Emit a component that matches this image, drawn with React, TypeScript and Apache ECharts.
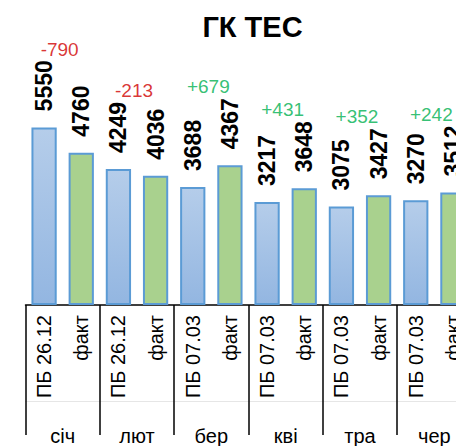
import React, { useEffect, useRef } from "react";
import * as echarts from "echarts";

const months = ["січ", "лют", "бер", "кві", "тра", "чер"];
const subLabels = [
  "ПБ 26.12", "факт", "ПБ 26.12", "факт", "ПБ 07.03", "факт",
  "ПБ 07.03", "факт", "ПБ 07.03", "факт", "ПБ 07.03", "факт",
];
const planValues = [5550, 4249, 3688, 3217, 3075, 3270];
const factValues = [4760, 4036, 4367, 3648, 3427, 3512];

const FONT = "Liberation Sans";

export default function App() {
  const ref = useRef<HTMLDivElement>(null);

  useEffect(() => {
    if (!ref.current) return;
    const chart = echarts.init(ref.current, undefined, { renderer: "svg" });

    const planData: (number | null)[] = [];
    const factData: (number | null)[] = [];
    planValues.forEach((p, i) => {
      planData.push(p, null);
      factData.push(null, factValues[i]);
    });

    const diffData = planValues.map((p, i) => {
      const d = factValues[i] - p;
      return {
        value: [i, Math.max(p, factValues[i]) + 2450],
        label: {
          formatter: (d > 0 ? "+" : "") + String(d),
          color: d < 0 ? "#d00000" : "#00b050",
        },
      };
    });

    const valueLabel = {
      show: true,
      position: "top",
      distance: 16,
      rotate: 90,
      align: "left",
      verticalAlign: "middle",
      fontFamily: FONT,
      fontWeight: "bold",
      fontSize: 23,
      color: "#000",
    };

    chart.setOption({
      animation: false,
      title: {
        text: "ГК ТЕС",
        left: 247.5,
        top: 7,
        textAlign: "center",
        textStyle: { fontFamily: FONT, fontWeight: "bold", fontSize: 29, color: "#000" },
      },
      grid: { left: 25.5, top: 113, width: 446, height: 204, containLabel: false },
      xAxis: [
        {
          type: "category",
          data: subLabels,
          position: "bottom",
          axisLine: { show: true, lineStyle: { color: "#000", width: 1.5 } },
          axisTick: { show: false },
          axisLabel: {
            interval: 0,
            rotate: 90,
            margin: 10,
            fontFamily: FONT,
            fontSize: 20,
            color: "#000",
          },
          splitLine: { show: false },
        },
        {
          type: "category",
          data: months,
          position: "bottom",
          axisLine: { show: false },
          axisTick: { show: true, interval: 0, length: 130, lineStyle: { color: "#000", width: 1.5 } },
          axisLabel: {
            interval: 0,
            margin: 121,
            fontFamily: FONT,
            fontSize: 20,
            color: "#000",
          },
          splitLine: { show: false },
        },
        {
          type: "category",
          data: months,
          position: "bottom",
          offset: 96,
          axisLine: { show: true, lineStyle: { color: "#e6e6e6", width: 1 } },
          axisTick: { show: false },
          axisLabel: { show: false },
        },
      ],
      yAxis: {
        type: "value",
        min: 0,
        max: 6000,
        show: false,
        splitLine: { show: false },
      },
      series: [
        {
          type: "bar",
          xAxisIndex: 0,
          data: planData,
          barWidth: "68%",
          barGap: "-100%",
          itemStyle: {
            color: new echarts.graphic.LinearGradient(0, 0, 0, 1, [
              { offset: 0, color: "#b5cdea" },
              { offset: 1, color: "#93b6e1" },
            ]),
            borderColor: "#5b9bd5",
            borderWidth: 2,
          },
          label: valueLabel,
        },
        {
          type: "bar",
          xAxisIndex: 0,
          data: factData,
          barWidth: "68%",
          barGap: "-100%",
          itemStyle: { color: "#a9d18e", borderColor: "#5b9bd5", borderWidth: 2 },
          label: valueLabel,
        },
        {
          type: "scatter",
          xAxisIndex: 1,
          data: diffData,
          symbolSize: 1,
          itemStyle: { color: "rgba(0,0,0,0)" },
          clip: false,
          label: {
            show: true,
            position: "inside",
            offset: [-3, 0],
            fontFamily: FONT,
            fontSize: 19,
          },
        },
      ],
    });

    return () => chart.dispose();
  }, []);

  return (
    <div style={{ position: "fixed", left: 0, top: 0, width: 456, height: 446, overflow: "hidden", background: "#fff" }}>
      <div ref={ref} style={{ width: 480, height: 446 }} />
    </div>
  );
}
